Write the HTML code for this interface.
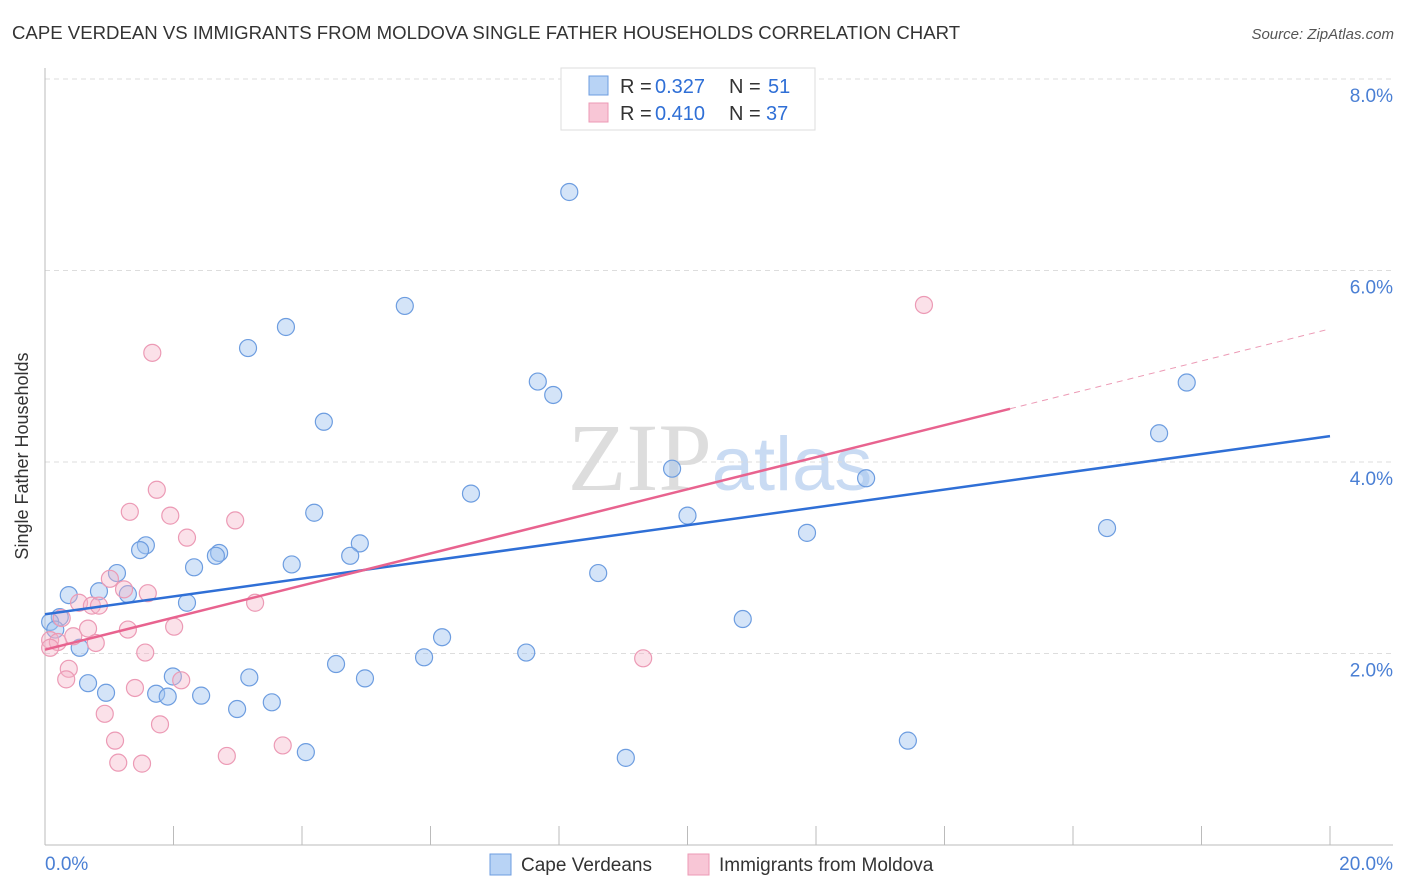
<!DOCTYPE html>
<html><head><meta charset="utf-8"><style>
body{margin:0;background:#fff;font-family:"Liberation Sans",sans-serif}
svg{display:block}
</style></head><body>
<svg width="1406" height="892" id="c">
<text x="12" y="39" font-size="18.6" fill="#333">CAPE VERDEAN VS IMMIGRANTS FROM MOLDOVA SINGLE FATHER HOUSEHOLDS CORRELATION CHART</text>
<text x="1394" y="39" font-size="15" fill="#555" font-style="italic" text-anchor="end">Source: ZipAtlas.com</text>
<text x="720" y="490" font-size="96" fill="#ddd" text-anchor="middle" font-family="Liberation Serif">ZIP<tspan fill="#c9dbf3" font-family="Liberation Sans" font-size="76">atlas</tspan></text>
<g id="grid"></g>
<g id="pts"></g>
<g id="lines"></g>
<text x="28" y="456" font-size="18" fill="#333" text-anchor="middle" transform="rotate(-90 28 456)">Single Father Households</text>
<g>
<rect x="561" y="68" width="254" height="62" fill="#fff" stroke="#ddd"/>
<rect x="589" y="76" width="19" height="19" fill="#b8d3f5" stroke="#6d9de0"/>
<rect x="589" y="103" width="19" height="19" fill="#f8c6d6" stroke="#ec9ab5"/>
<text x="620" y="93" font-size="20" fill="#333">R =</text>
<text x="655" y="93" font-size="20" fill="#2f6fd6">0.327</text>
<text x="729" y="93" font-size="20" fill="#333">N =</text>
<text x="768" y="93" font-size="20" fill="#2f6fd6">51</text>
<text x="620" y="120" font-size="20" fill="#333">R =</text>
<text x="655" y="120" font-size="20" fill="#2f6fd6">0.410</text>
<text x="729" y="120" font-size="20" fill="#333">N =</text>
<text x="766" y="120" font-size="20" fill="#2f6fd6">37</text>
</g>
<g>
<rect x="490" y="854" width="21" height="21" fill="#b8d3f5" stroke="#6d9de0"/>
<text x="521" y="871" font-size="19" fill="#333">Cape Verdeans</text>
<rect x="688" y="854" width="21" height="21" fill="#f8c6d6" stroke="#ec9ab5"/>
<text x="719" y="871" font-size="19" fill="#333">Immigrants from Moldova</text>
</g>
</svg>
<script>
const xTicks=[0,20];
const yTicks=[2,4,6,8];
const blueX=[8.16,5.60,3.75,3.16,4.34,7.67,7.91,17.77,17.34,12.78,9.76,6.63,10.0,4.19,11.86,16.53,4.90,4.75,1.57,1.48,2.71,2.66,2.32,3.84,1.12,8.61,0.37,0.84,1.29,2.21,10.86,0.23,0.08,0.16,6.18,0.54,4.53,5.90,7.49,1.99,3.18,4.98,0.67,0.95,1.73,1.91,2.43,2.99,3.53,4.06,9.04,13.43];
const blueY=[6.82,5.63,5.41,5.19,4.42,4.84,4.70,4.83,4.30,3.83,3.93,3.67,3.44,3.47,3.26,3.31,3.15,3.02,3.13,3.08,3.05,3.02,2.90,2.93,2.84,2.84,2.61,2.65,2.62,2.53,2.36,2.38,2.33,2.25,2.17,2.06,1.89,1.96,2.01,1.76,1.75,1.74,1.69,1.59,1.58,1.55,1.56,1.42,1.49,0.97,0.91,1.09];
const pinkX=[13.68,1.67,1.74,1.32,1.95,2.96,2.21,1.01,1.23,1.60,0.53,0.73,0.84,3.27,0.26,0.67,1.29,2.01,0.44,0.08,0.20,0.08,0.79,1.56,0.37,0.33,2.12,1.40,0.93,1.79,9.31,1.09,3.70,2.83,1.14,1.51];
const pinkY=[5.64,5.14,3.71,3.48,3.44,3.39,3.21,2.78,2.67,2.63,2.53,2.50,2.50,2.53,2.37,2.26,2.25,2.28,2.18,2.14,2.12,2.06,2.11,2.01,1.84,1.73,1.72,1.64,1.37,1.26,1.95,1.09,1.04,0.93,0.86,0.85];
const blueTrend=[2.41,4.27];
const pinkTrend=[2.04,5.39];
const pinkSolidEnd=15.02;
const X=v=>45+v*64.25, Y=v=>845-v*95.75;
const NS='http://www.w3.org/2000/svg';
function mk(t,a,p){const e=document.createElementNS(NS,t);for(const k in a)e.setAttribute(k,a[k]);p.appendChild(e);return e;}
const g=document.getElementById('grid');
yTicks.forEach(t=>{
 const l=mk('line',{x1:45,x2:1393,y1:Y(t),y2:Y(t),stroke:'#ddd','stroke-dasharray':'5,4'},g);
 
 
 const tx=mk('text',{x:1393,y:Y(t)+23,'font-size':19,fill:'#4a7fd4','text-anchor':'end'},g);
 tx.textContent=t.toFixed(1)+'%';
 
 
});
mk('line',{x1:45,x2:45,y1:68,y2:845,stroke:'#bbb'},g);
mk('line',{x1:45,x2:1393,y1:845,y2:845,stroke:'#bbb'},g);
for(let i=0;i<=10;i++){const l=mk('line',{x1:X(i*2),x2:X(i*2),y1:826,y2:845,stroke:'#bbb'},g);
 
 }
xTicks.forEach((t,i)=>{
 const tx=mk('text',{x:i?1393:45,y:870,'font-size':19,fill:'#4a7fd4','text-anchor':i?'end':'start'},g);
 tx.textContent=t.toFixed(1)+'%';
 
 
});
const p=document.getElementById('pts');
blueX.forEach((v,i)=>{const c=mk('circle',{cx:X(v),cy:Y(blueY[i]),r:8.5,fill:'rgba(160,196,240,0.45)',stroke:'#6d9de0','stroke-width':1.2},p);
 
 });
pinkX.forEach((v,i)=>{const c=mk('circle',{cx:X(v),cy:Y(pinkY[i]),r:8.5,fill:'rgba(245,180,200,0.4)',stroke:'#ec9ab5','stroke-width':1.2},p);
 
 });
const L=document.getElementById('lines');
const b=mk('line',{x1:X(0),y1:Y(blueTrend[0]),x2:X(20),y2:Y(blueTrend[1]),stroke:'#2f6fd6','stroke-width':2.5},L);


const py=x=>pinkTrend[0]+(pinkTrend[1]-pinkTrend[0])*x/20;
const ps=mk('line',{x1:X(0),y1:Y(pinkTrend[0]),x2:X(pinkSolidEnd),y2:Y(py(pinkSolidEnd)),stroke:'#e8638f','stroke-width':2.5},L);


const pd=mk('line',{x1:X(pinkSolidEnd),y1:Y(py(pinkSolidEnd)),x2:X(20),y2:Y(pinkTrend[1]),stroke:'#ec9ab5','stroke-width':1,'stroke-dasharray':'6,5'},L);


</script>
</body></html>
